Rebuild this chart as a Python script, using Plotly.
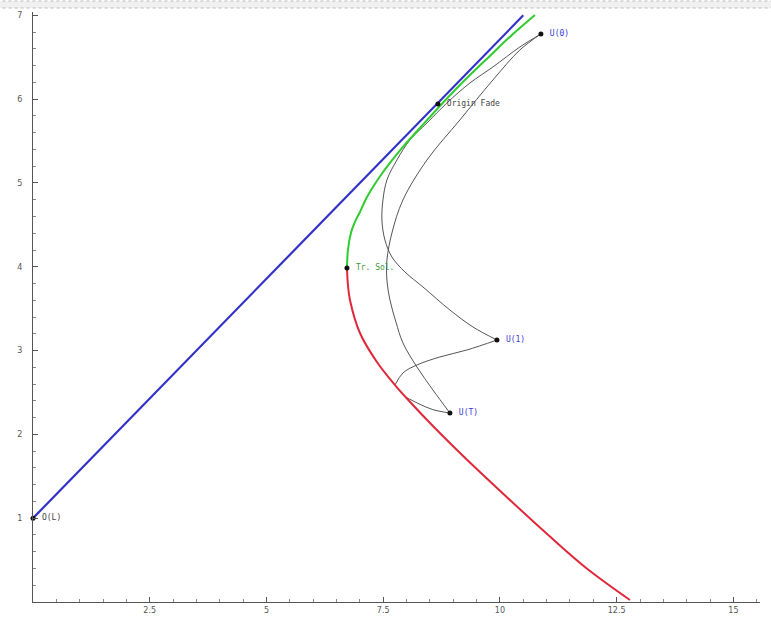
import plotly.graph_objects as go

# ---- data ----
blue_x = [0.0, 10.5]
blue_y = [1.0, 7.0]

green_x = [6.724, 6.745, 6.809, 6.895, 7.002, 7.131, 7.281, 7.452, 7.645, 7.923, 8.287, 8.715, 9.186, 9.786, 10.257, 10.75]
green_y = [3.986, 4.200, 4.403, 4.535, 4.654, 4.809, 4.952, 5.095, 5.239, 5.430, 5.656, 5.919, 6.193, 6.516, 6.766, 7.005]

red_x = [6.724, 6.745, 6.788, 7.002, 7.366, 7.752, 8.137, 8.544, 9.036, 9.572, 10.214, 10.964, 11.820, 12.784]
red_y = [3.986, 3.783, 3.604, 3.210, 2.864, 2.589, 2.351, 2.112, 1.838, 1.551, 1.217, 0.835, 0.418, 0.024]

p_x = [10.878, 10.428, 9.850, 9.358, 8.865, 8.437, 8.073, 7.794, 7.580, 7.495, 7.473, 7.537, 7.687, 7.966, 8.351, 8.929, 9.422, 9.936]
p_y = [6.778, 6.623, 6.384, 6.193, 5.955, 5.716, 5.513, 5.274, 5.036, 4.797, 4.558, 4.320, 4.117, 3.938, 3.759, 3.484, 3.282, 3.126]

q_x = [10.878, 10.428, 9.850, 9.143, 8.437, 7.923, 7.687, 7.580, 7.580, 7.645, 7.773, 7.923, 8.223, 8.565, 8.929]
q_y = [6.778, 6.587, 6.229, 5.752, 5.274, 4.797, 4.403, 4.081, 3.842, 3.604, 3.341, 3.091, 2.804, 2.530, 2.255]

c1_x = [9.936, 9.293, 8.715, 8.223, 7.923, 7.752]
c1_y = [3.126, 3.007, 2.924, 2.828, 2.733, 2.589]

c2_x = [7.944, 8.244, 8.565, 8.929]
c2_y = [2.458, 2.370, 2.295, 2.255]

pt_names = ["U(0)", "Origin Fade", "Tr. Sol.", "U(1)", "U(T)", "O(L)"]
pt_x = [10.878, 8.672, 6.724, 9.936, 8.929, 0.0]
pt_y = [6.778, 5.943, 3.986, 3.126, 2.255, 1.0]
pt_colors = ["#3b3bd6", "#444444", "#3a9a3a", "#3b3bd6", "#3b3bd6", "#444444"]

x_ticks = [2.5, 5, 7.5, 10, 12.5, 15]
x_tick_labels = ["2.5", "5", "7.5", "10", "12.5", "15"]
y_ticks = [1, 2, 3, 4, 5, 6, 7]
y_tick_labels = ["1", "2", "3", "4", "5", "6", "7"]

fig = go.Figure()

gray = "#555555"
for xs, ys in [(p_x, p_y), (q_x, q_y), (c1_x, c1_y), (c2_x, c2_y)]:
    fig.add_trace(go.Scatter(x=xs, y=ys, mode="lines", line=dict(color=gray, width=1, shape="spline"),
                             showlegend=False, hoverinfo="skip"))

fig.add_trace(go.Scatter(x=red_x, y=red_y, mode="lines", line=dict(color="#e0283a", width=2, shape="spline"),
                         showlegend=False))
fig.add_trace(go.Scatter(x=green_x, y=green_y, mode="lines", line=dict(color="#2ecc2e", width=2, shape="spline"),
                         showlegend=False))
fig.add_trace(go.Scatter(x=blue_x, y=blue_y, mode="lines", line=dict(color="#3232c8", width=2.2),
                         showlegend=False))

fig.add_trace(go.Scatter(x=pt_x, y=pt_y, mode="markers+text", text=[" " + t for t in pt_names],
                         textposition="middle right",
                         textfont=dict(family="DejaVu Sans Mono", size=8, color=pt_colors),
                         marker=dict(color="#111111", size=5),
                         showlegend=False, cliponaxis=False))

fig.update_layout(
    width=771, height=621,
    margin=dict(l=33, r=11, t=12, b=19),
    plot_bgcolor="white", paper_bgcolor="white",
    xaxis=dict(range=[0, 15.57], tickvals=x_ticks, ticktext=x_tick_labels, automargin=False,
               ticks="inside", ticklen=5, tickcolor="#555", showgrid=False, zeroline=False,
               showline=True, linecolor="#555", linewidth=1,
               minor=dict(dtick=0.5, tick0=0, ticks="inside", ticklen=3, tickcolor="#888"),
               tickfont=dict(family="DejaVu Sans", size=8, color="#555")),
    yaxis=dict(range=[0, 7.04], tickvals=y_ticks, ticktext=y_tick_labels, automargin=False,
               ticks="inside", ticklen=5, tickcolor="#555", showgrid=False, zeroline=False,
               showline=True, linecolor="#555", linewidth=1, ticklabelstandoff=8,
               minor=dict(dtick=0.2, tick0=0, ticks="inside", ticklen=3, tickcolor="#888"),
               tickfont=dict(family="DejaVu Sans", size=8, color="#555")),
    shapes=[dict(type="rect", xref="paper", yref="paper", x0=-0.05, x1=1.02,
                 y0=1 + 4 / 590, y1=1 + 11 / 590,
                 line=dict(color="#bbbbbb", width=1, dash="dot"), fillcolor="#f0f0f0", layer="below")],
)

fig.write_html("out.html", config={"displayModeBar": False},
               post_script="document.body.style.margin='0';document.body.style.overflow='hidden';")
